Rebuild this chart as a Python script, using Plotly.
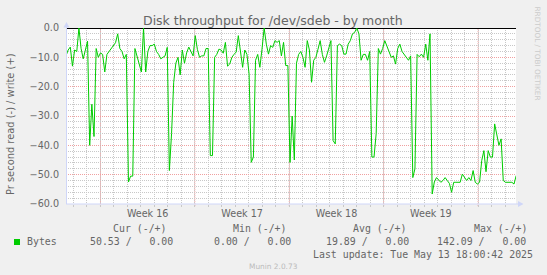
import plotly.graph_objects as go
import pandas as pd

# ---------------- data ----------------
title_text = "Disk throughput for /dev/sdeb - by month"
y_axis_title = "Pr second read (-) / write (+)"
series_name = "Bytes"
series_color = "#00CC00"

sample_start = "2025-04-10 10:40"
sample_minutes = 230
# bytes read per second (drawn below zero); writes are 0 throughout
read_values = [
    9.5, 7.5, 6.5, 13, 7.5, 8, 0, 7, 10.5, 7,
    4.5, 40, 26, 37, 7, 10, 8.5, 9, 15, 9,
    8, 7, 6, 5, 2, 7, 8, 10.5, 9, 52.5,
    50.5, 50.5, 7, 10, 12, 15, 0, 15, 8, 6,
    6, 5.5, 8, 9, 10.5, 10, 9.5, 6.6, 48.6, 36,
    18.5, 12, 10, 16, 7.5, 12, 8.5, 6.5, 8, 9.5,
    2.6, 7.3, 10, 9.5, 9.5, 7, 7, 43.5, 43.5, 10,
    9, 7.2, 7.5, 8.6, 4.9, 13, 12.3, 10, 9, 8.2,
    2.6, 8.5, 13.4, 7.5, 9, 15.7, 45.8, 44, 11, 9,
    13.4, 7.2, 0, 5.5, 8.9, 6, 6.6, 4.3, 4.9, 4.3,
    9.5, 4.9, 12.8, 12.8, 45.8, 30, 45, 12, 9, 8,
    10, 13.4, 4.3, 7.5, 18.5, 11, 10, 7.2, 4.3, 9,
    11.7, 9.5, 6.6, 4.3, 38.4, 39.5, 6, 5.5, 6, 8.9,
    8.9, 5.5, 4.3, 2, 1.5, 0, 2, 11, 9, 9,
    11, 8, 44, 44, 36, 7, 8.9, 7, 4.3, 6,
    7.7, 10, 9.5, 12.3, 7, 5.5, 8, 8.9, 10, 11,
    9.5, 51, 48, 9, 9.8, 8.9, 10, 5.5, 11, 2,
    56.6, 52.5, 51, 52, 52.6, 52, 51, 52, 53, 56,
    52.6, 52.6, 52.6, 52.6, 49.8, 51, 52, 51, 52, 48.6,
    52.6, 53.2, 52.6, 45.2, 41.8, 49, 41.8, 44, 44, 32.7,
    37, 40, 37.8, 52, 52.6, 52.6, 52.6, 52.6, 53.2, 50.3,
]

range_start = "2025-04-10 10:40"
range_end = "2025-05-13 19:30"
week_starts = ["2025-04-13", "2025-04-20", "2025-04-27", "2025-05-04", "2025-05-11"]
week_labels = ["Week 16", "Week 17", "Week 18", "Week 19"]
y_tick_values = [0, -10, -20, -30, -40, -50, -60]

legend_headers = ["Cur (-/+)", "Min (-/+)", "Avg (-/+)", "Max (-/+)"]
legend_values = ["50.53 /   0.00", "0.00 /   0.00", "19.89 /   0.00", "142.09 /   0.00"]
last_update = "Last update: Tue May 13 18:00:42 2025"
footer_text = "Munin 2.0.73"
credit_text = "RRDTOOL / TOBI OETIKER"

# ---------------- layout constants ----------------
W, H = 547, 275
L, R, T, B = 66, 516, 28, 204
FONT_COL = "#666666"
AXIS_COL = "#CFD6F8"
GRID_COL = "#c8c8c8"
MGRID_COL = "#f0a0a0"


def px(x):
    return (x - L) / (R - L)


def py(y):
    return (B - y) / (B - T)


def nb(s):
    return s.replace(" ", "\u00a0")


times = pd.date_range(sample_start, periods=len(read_values), freq=f"{sample_minutes}min")
read_neg = [-v for v in read_values]

fig = go.Figure()
fig.add_trace(go.Scatter(
    x=times, y=read_neg, mode="lines", name=series_name,
    line=dict(color=series_color, width=1), hoverinfo="skip", showlegend=False,
))

mid_weeks = [pd.Timestamp(w) + pd.Timedelta(days=3.5) for w in week_starts[:len(week_labels)]]

shapes = []
# week (major) vertical grid lines
for w in week_starts:
    shapes.append(dict(type="line", xref="x", yref="paper", x0=w, x1=w, y0=-0.012, y1=1,
                       line=dict(color=MGRID_COL, width=1, dash="1px,1px"), layer="between"))
# axis lines + arrows
shapes.append(dict(type="line", xref="paper", yref="paper", x0=px(L), x1=px(519), y0=0, y1=0,
                   line=dict(color=AXIS_COL, width=1), layer="above"))
shapes.append(dict(type="line", xref="paper", yref="paper", x0=px(L + 0.5), x1=px(L + 0.5), y0=0, y1=py(26),
                   line=dict(color=AXIS_COL, width=1), layer="above"))
shapes.append(dict(type="path", xref="paper", yref="paper",
                   path=f"M {px(63.5)},{py(27.5)} L {px(69.5)},{py(27.5)} L {px(66.5)},{py(22)} Z",
                   fillcolor=AXIS_COL, line=dict(width=0), layer="above"))
shapes.append(dict(type="path", xref="paper", yref="paper",
                   path=f"M {px(518)},{py(201)} L {px(518)},{py(207)} L {px(523.5)},{py(204)} Z",
                   fillcolor=AXIS_COL, line=dict(width=0), layer="above"))
# legend colour square
shapes.append(dict(type="rect", xref="paper", yref="paper", x0=px(14), x1=px(20), y0=py(245), y1=py(239),
                   fillcolor=series_color, line=dict(width=0)))

ann = []
ann.append(dict(text=title_text, x=px(273), y=py(20), xref="paper", yref="paper", showarrow=False,
                xanchor="center", yanchor="middle",
                font=dict(family="DejaVu Sans", size=12.5, color=FONT_COL)))
ann.append(dict(text=y_axis_title, x=px(10), y=py(124), xref="paper", yref="paper", showarrow=False,
                textangle=-90, xanchor="center", yanchor="middle",
                font=dict(family="DejaVu Sans", size=9.9, color=FONT_COL)))
ann.append(dict(text=credit_text, x=px(537), y=py(53.5), xref="paper", yref="paper", showarrow=False,
                textangle=90, xanchor="center", yanchor="middle",
                font=dict(family="DejaVu Sans", size=7.3, color="#cccccc")))

mono = dict(family="DejaVu Sans Mono", size=9.9, color=FONT_COL)
header_x = [111.7, 232, 352.4, 472.8]
value_x = [89, 212.8, 324.5, 436.2]
for hx, htxt in zip(header_x, legend_headers):
    ann.append(dict(text=nb(htxt), x=px(hx), y=py(228.6), xref="paper", yref="paper", showarrow=False,
                    xanchor="left", yanchor="middle", font=mono, borderpad=0))
for vx, vtxt in zip(value_x, legend_values):
    ann.append(dict(text=nb(vtxt), x=px(vx), y=py(241.9), xref="paper", yref="paper", showarrow=False,
                    xanchor="left", yanchor="middle", font=mono, borderpad=0))
ann.append(dict(text=series_name, x=px(26.2), y=py(241.9), xref="paper", yref="paper", showarrow=False,
                xanchor="left", yanchor="middle", font=mono, borderpad=0))
ann.append(dict(text=nb(last_update), x=px(311.6), y=py(254.1), xref="paper", yref="paper", showarrow=False,
                xanchor="left", yanchor="middle", font=mono, borderpad=0))
ann.append(dict(text=footer_text, x=px(273), y=py(266.3), xref="paper", yref="paper", showarrow=False,
                xanchor="center", yanchor="middle",
                font=dict(family="DejaVu Sans", size=7.4, color="#bbbbbb")))

fig.update_layout(
    width=W, height=H,
    margin=dict(l=L, r=W - R, t=T, b=H - B, pad=0),
    paper_bgcolor="#F0F0F0", plot_bgcolor="#FFFFFF",
    shapes=shapes, annotations=ann, showlegend=False,
    xaxis=dict(
        type="date", range=[range_start, range_end],
        tickmode="array", tickvals=mid_weeks, ticktext=week_labels,
        ticks="", showgrid=False, showline=False, zeroline=False,
        tickfont=dict(family="DejaVu Sans", size=9.6, color=FONT_COL),
        ticklabelstandoff=2,
        minor=dict(tickmode="linear", tick0="2025-04-10", dtick=86400000,
                   showgrid=True, gridcolor=GRID_COL, griddash="1px,1px", gridwidth=1,
                   ticks="outside", ticklen=2, tickcolor=GRID_COL),
        fixedrange=True,
    ),
    yaxis=dict(
        range=[-60, 0], tickmode="array", tickvals=y_tick_values, tickformat=".1f",
        ticks="", showgrid=True, gridcolor=MGRID_COL, griddash="1px,1px", gridwidth=1,
        zeroline=True, zerolinecolor="#000000", zerolinewidth=1, showline=False,
        tickfont=dict(family="DejaVu Sans", size=9.6, color=FONT_COL),
        ticklabelstandoff=6,
        minor=dict(tickmode="linear", tick0=0, dtick=2, showgrid=True,
                   gridcolor=GRID_COL, griddash="1px,1px", gridwidth=1),
        fixedrange=True,
    ),
)

fig.write_html("out.html", config={"displayModeBar": False})
